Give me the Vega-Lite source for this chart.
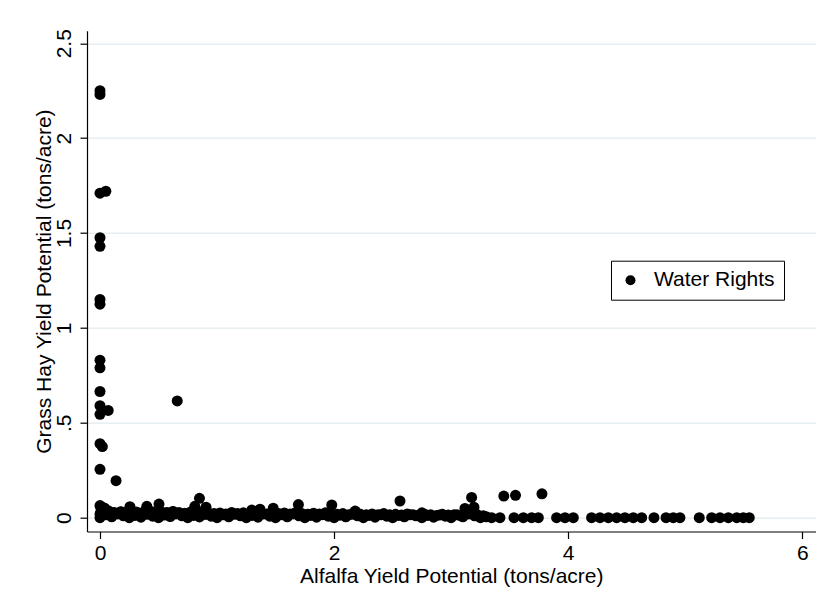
{
  "$schema": "https://vega.github.io/schema/vega-lite/v6.json",
  "autosize": {"type": "none"},
  "width": 728.5,
  "height": 500.8,
  "padding": {"left": 87, "top": 30.7, "right": 9.5, "bottom": 79.5},
  "background": "white",
  "config": {
    "view": {"stroke": null},
    "font": "Liberation Sans"
  },
  "data": {
    "values": [
      {"alfalfa": 0.0, "grass": 2.25},
      {"alfalfa": 0.0, "grass": 2.23},
      {"alfalfa": 0.0, "grass": 1.71},
      {"alfalfa": 0.05, "grass": 1.72},
      {"alfalfa": 0.0, "grass": 1.475},
      {"alfalfa": 0.0, "grass": 1.43},
      {"alfalfa": 0.0, "grass": 1.15},
      {"alfalfa": 0.0, "grass": 1.125},
      {"alfalfa": 0.0, "grass": 0.83},
      {"alfalfa": 0.0, "grass": 0.79},
      {"alfalfa": 0.0, "grass": 0.665},
      {"alfalfa": 0.0, "grass": 0.59},
      {"alfalfa": 0.0, "grass": 0.545},
      {"alfalfa": 0.07, "grass": 0.565},
      {"alfalfa": 0.66, "grass": 0.615},
      {"alfalfa": 0.0, "grass": 0.39},
      {"alfalfa": 0.02, "grass": 0.375},
      {"alfalfa": 0.0, "grass": 0.255},
      {"alfalfa": 0.137, "grass": 0.195},
      {"alfalfa": 0.85, "grass": 0.102},
      {"alfalfa": 0.0, "grass": 0.064},
      {"alfalfa": 0.02, "grass": 0.055},
      {"alfalfa": 0.01, "grass": 0.045},
      {"alfalfa": 0.04, "grass": 0.05},
      {"alfalfa": 0.01, "grass": 0.03},
      {"alfalfa": 0.0, "grass": 0.02},
      {"alfalfa": 0.256, "grass": 0.058},
      {"alfalfa": 0.4, "grass": 0.06},
      {"alfalfa": 0.504, "grass": 0.072},
      {"alfalfa": 0.81, "grass": 0.06},
      {"alfalfa": 0.906, "grass": 0.055},
      {"alfalfa": 1.296, "grass": 0.04},
      {"alfalfa": 1.367, "grass": 0.045},
      {"alfalfa": 1.48, "grass": 0.05},
      {"alfalfa": 1.695, "grass": 0.069},
      {"alfalfa": 1.98, "grass": 0.067},
      {"alfalfa": 2.18, "grass": 0.035},
      {"alfalfa": 2.563, "grass": 0.088},
      {"alfalfa": 2.75, "grass": 0.026},
      {"alfalfa": 3.118, "grass": 0.049},
      {"alfalfa": 3.175, "grass": 0.107},
      {"alfalfa": 3.195, "grass": 0.055},
      {"alfalfa": 3.45, "grass": 0.114},
      {"alfalfa": 3.55, "grass": 0.118},
      {"alfalfa": 3.776, "grass": 0.126},
      {"alfalfa": 0.07, "grass": 0.03},
      {"alfalfa": 0.12, "grass": 0.028},
      {"alfalfa": 0.18, "grass": 0.032},
      {"alfalfa": 0.31, "grass": 0.03},
      {"alfalfa": 0.36, "grass": 0.025},
      {"alfalfa": 0.46, "grass": 0.03},
      {"alfalfa": 0.57, "grass": 0.028},
      {"alfalfa": 0.62, "grass": 0.032},
      {"alfalfa": 0.0, "grass": 0.0},
      {"alfalfa": 0.05, "grass": 0.015},
      {"alfalfa": 0.1, "grass": 0.005},
      {"alfalfa": 0.15, "grass": 0.02},
      {"alfalfa": 0.2, "grass": 0.01},
      {"alfalfa": 0.25, "grass": 0.0},
      {"alfalfa": 0.3, "grass": 0.012},
      {"alfalfa": 0.35, "grass": 0.003},
      {"alfalfa": 0.4, "grass": 0.018},
      {"alfalfa": 0.45, "grass": 0.008},
      {"alfalfa": 0.5, "grass": 0.0},
      {"alfalfa": 0.55, "grass": 0.014},
      {"alfalfa": 0.6, "grass": 0.006},
      {"alfalfa": 0.65, "grass": 0.02},
      {"alfalfa": 0.7, "grass": 0.01},
      {"alfalfa": 0.75, "grass": 0.0},
      {"alfalfa": 0.8, "grass": 0.012},
      {"alfalfa": 0.85, "grass": 0.004},
      {"alfalfa": 0.9, "grass": 0.017},
      {"alfalfa": 0.95, "grass": 0.008},
      {"alfalfa": 1.0, "grass": 0.0},
      {"alfalfa": 1.05, "grass": 0.015},
      {"alfalfa": 1.1, "grass": 0.005},
      {"alfalfa": 1.15, "grass": 0.018},
      {"alfalfa": 1.2, "grass": 0.01},
      {"alfalfa": 1.25, "grass": 0.0},
      {"alfalfa": 1.3, "grass": 0.012},
      {"alfalfa": 1.35, "grass": 0.003},
      {"alfalfa": 1.4, "grass": 0.02},
      {"alfalfa": 1.45, "grass": 0.008},
      {"alfalfa": 1.5, "grass": 0.0},
      {"alfalfa": 1.55, "grass": 0.015},
      {"alfalfa": 1.6, "grass": 0.005},
      {"alfalfa": 1.65, "grass": 0.02},
      {"alfalfa": 1.7, "grass": 0.01},
      {"alfalfa": 1.75, "grass": 0.0},
      {"alfalfa": 1.8, "grass": 0.012},
      {"alfalfa": 1.85, "grass": 0.003},
      {"alfalfa": 1.9, "grass": 0.016},
      {"alfalfa": 1.95, "grass": 0.008},
      {"alfalfa": 2.0, "grass": 0.0},
      {"alfalfa": 2.05, "grass": 0.013},
      {"alfalfa": 2.1, "grass": 0.005},
      {"alfalfa": 2.15, "grass": 0.018},
      {"alfalfa": 2.2, "grass": 0.01},
      {"alfalfa": 2.25, "grass": 0.0},
      {"alfalfa": 2.3, "grass": 0.012},
      {"alfalfa": 2.35, "grass": 0.003},
      {"alfalfa": 2.4, "grass": 0.015},
      {"alfalfa": 2.45, "grass": 0.008},
      {"alfalfa": 2.5, "grass": 0.0},
      {"alfalfa": 2.55, "grass": 0.012},
      {"alfalfa": 2.6, "grass": 0.005},
      {"alfalfa": 2.65, "grass": 0.015},
      {"alfalfa": 2.7, "grass": 0.01},
      {"alfalfa": 2.75, "grass": 0.0},
      {"alfalfa": 2.8, "grass": 0.012},
      {"alfalfa": 2.85, "grass": 0.003},
      {"alfalfa": 2.9, "grass": 0.014},
      {"alfalfa": 2.95, "grass": 0.008},
      {"alfalfa": 3.0, "grass": 0.0},
      {"alfalfa": 3.05, "grass": 0.015},
      {"alfalfa": 3.1, "grass": 0.005},
      {"alfalfa": 3.15, "grass": 0.02},
      {"alfalfa": 3.2, "grass": 0.01},
      {"alfalfa": 3.25, "grass": 0.0},
      {"alfalfa": 3.3, "grass": 0.005},
      {"alfalfa": 0.025, "grass": 0.03},
      {"alfalfa": 0.075, "grass": 0.035},
      {"alfalfa": 0.125, "grass": 0.025},
      {"alfalfa": 0.175, "grass": 0.03},
      {"alfalfa": 0.225, "grass": 0.028},
      {"alfalfa": 0.275, "grass": 0.033},
      {"alfalfa": 0.325, "grass": 0.025},
      {"alfalfa": 0.375, "grass": 0.03},
      {"alfalfa": 0.425, "grass": 0.035},
      {"alfalfa": 0.475, "grass": 0.027},
      {"alfalfa": 0.525, "grass": 0.03},
      {"alfalfa": 0.575, "grass": 0.025},
      {"alfalfa": 0.625, "grass": 0.033},
      {"alfalfa": 0.675, "grass": 0.028},
      {"alfalfa": 0.725, "grass": 0.024},
      {"alfalfa": 0.775, "grass": 0.03},
      {"alfalfa": 0.825, "grass": 0.026},
      {"alfalfa": 0.875, "grass": 0.032},
      {"alfalfa": 0.925, "grass": 0.025},
      {"alfalfa": 0.975, "grass": 0.022},
      {"alfalfa": 1.025, "grass": 0.025},
      {"alfalfa": 1.075, "grass": 0.02},
      {"alfalfa": 1.125, "grass": 0.028},
      {"alfalfa": 1.175, "grass": 0.022},
      {"alfalfa": 1.225, "grass": 0.026},
      {"alfalfa": 1.275, "grass": 0.02},
      {"alfalfa": 1.325, "grass": 0.03},
      {"alfalfa": 1.375, "grass": 0.024},
      {"alfalfa": 1.425, "grass": 0.02},
      {"alfalfa": 1.475, "grass": 0.027},
      {"alfalfa": 1.525, "grass": 0.022},
      {"alfalfa": 1.575, "grass": 0.025},
      {"alfalfa": 1.625, "grass": 0.02},
      {"alfalfa": 1.675, "grass": 0.028},
      {"alfalfa": 1.725, "grass": 0.022},
      {"alfalfa": 1.775, "grass": 0.018},
      {"alfalfa": 1.825, "grass": 0.024},
      {"alfalfa": 1.875, "grass": 0.02},
      {"alfalfa": 1.925, "grass": 0.026},
      {"alfalfa": 1.975, "grass": 0.02},
      {"alfalfa": 2.025, "grass": 0.018},
      {"alfalfa": 2.075, "grass": 0.022},
      {"alfalfa": 2.125, "grass": 0.016},
      {"alfalfa": 2.175, "grass": 0.024},
      {"alfalfa": 2.225, "grass": 0.018},
      {"alfalfa": 2.275, "grass": 0.015},
      {"alfalfa": 2.325, "grass": 0.02},
      {"alfalfa": 2.375, "grass": 0.016},
      {"alfalfa": 2.425, "grass": 0.022},
      {"alfalfa": 2.475, "grass": 0.015},
      {"alfalfa": 2.525, "grass": 0.018},
      {"alfalfa": 2.575, "grass": 0.014},
      {"alfalfa": 2.625, "grass": 0.02},
      {"alfalfa": 2.675, "grass": 0.016},
      {"alfalfa": 2.725, "grass": 0.013},
      {"alfalfa": 2.775, "grass": 0.018},
      {"alfalfa": 2.825, "grass": 0.015},
      {"alfalfa": 2.875, "grass": 0.012},
      {"alfalfa": 2.925, "grass": 0.018},
      {"alfalfa": 2.975, "grass": 0.014},
      {"alfalfa": 3.025, "grass": 0.016},
      {"alfalfa": 3.075, "grass": 0.012},
      {"alfalfa": 3.125, "grass": 0.02},
      {"alfalfa": 3.175, "grass": 0.025},
      {"alfalfa": 3.225, "grass": 0.015},
      {"alfalfa": 3.275, "grass": 0.01},
      {"alfalfa": 3.346, "grass": 0.0},
      {"alfalfa": 3.417, "grass": 0.0},
      {"alfalfa": 3.537, "grass": 0.0},
      {"alfalfa": 3.617, "grass": 0.0},
      {"alfalfa": 3.688, "grass": 0.0},
      {"alfalfa": 3.745, "grass": 0.0},
      {"alfalfa": 3.901, "grass": 0.0},
      {"alfalfa": 3.973, "grass": 0.0},
      {"alfalfa": 4.044, "grass": 0.0},
      {"alfalfa": 4.2, "grass": 0.0},
      {"alfalfa": 4.272, "grass": 0.0},
      {"alfalfa": 4.343, "grass": 0.0},
      {"alfalfa": 4.414, "grass": 0.0},
      {"alfalfa": 4.485, "grass": 0.0},
      {"alfalfa": 4.556, "grass": 0.0},
      {"alfalfa": 4.628, "grass": 0.0},
      {"alfalfa": 4.733, "grass": 0.0},
      {"alfalfa": 4.836, "grass": 0.0},
      {"alfalfa": 4.898, "grass": 0.0},
      {"alfalfa": 4.955, "grass": 0.0},
      {"alfalfa": 5.12, "grass": 0.0},
      {"alfalfa": 5.226, "grass": 0.0},
      {"alfalfa": 5.297, "grass": 0.0},
      {"alfalfa": 5.368, "grass": 0.0},
      {"alfalfa": 5.44, "grass": 0.0},
      {"alfalfa": 5.496, "grass": 0.0},
      {"alfalfa": 5.547, "grass": 0.0}
    ]
  },
  "mark": {"type": "point", "shape": "circle", "filled": true, "size": 121, "opacity": 1, "strokeWidth": 0},
  "encoding": {
    "x": {
      "field": "alfalfa",
      "type": "quantitative",
      "scale": {"domain": [-0.111, 6.113], "nice": false, "zero": false},
      "axis": {
        "title": "Alfalfa Yield Potential (tons/acre)",
        "values": [0, 2, 4, 6],
        "format": "d",
        "grid": false,
        "domainColor": "#000000",
        "domainWidth": 1.2,
        "tickColor": "#000000",
        "tickSize": 7,
        "tickWidth": 1.2,
        "labelFontSize": 21,
        "labelColor": "#000000",
        "labelPadding": 4,
        "labelFlush": false,
        "titleFontSize": 21,
        "titleFontWeight": "normal",
        "titleColor": "#000000",
        "titleX": 364.25,
        "titleY": 50.8,
        "titleBaseline": "alphabetic",
        "titleAlign": "center"
      }
    },
    "y": {
      "field": "grass",
      "type": "quantitative",
      "scale": {"domain": [-0.0727, 2.566], "nice": false, "zero": false},
      "axis": {
        "title": "Grass Hay Yield Potential (tons/acre)",
        "values": [0, 0.5, 1, 1.5, 2, 2.5],
        "labelExpr": "datum.value == 0.5 ? '.5' : format(datum.value, '~g')",
        "grid": true,
        "gridColor": "#e6eef1",
        "gridWidth": 1.5,
        "domainColor": "#000000",
        "domainWidth": 1.2,
        "tickColor": "#000000",
        "tickSize": 7,
        "tickWidth": 1.2,
        "labelFontSize": 21,
        "labelColor": "#000000",
        "labelAngle": -90,
        "labelAlign": "center",
        "labelBaseline": "alphabetic",
        "labelPadding": 10,
        "labelFlush": false,
        "titleFontSize": 21,
        "titleFontWeight": "normal",
        "titleColor": "#000000",
        "titleAngle": -90,
        "titleX": -37,
        "titleY": 250.4,
        "titleBaseline": "alphabetic",
        "titleAlign": "center"
      }
    },
    "color": {
      "datum": "Water Rights",
      "type": "nominal",
      "scale": {"range": ["#000000"]},
      "legend": {
        "title": null,
        "orient": "none",
        "legendX": 524,
        "legendY": 230,
        "strokeColor": "#000000",
        "padding": 9,
        "symbolType": "circle",
        "symbolSize": 100,
        "symbolFillColor": "#000000",
        "symbolStrokeWidth": 0,
        "labelFontSize": 21,
        "labelColor": "#000000",
        "labelOffset": 13,
        "labelLimit": 400
      }
    }
  }
}
